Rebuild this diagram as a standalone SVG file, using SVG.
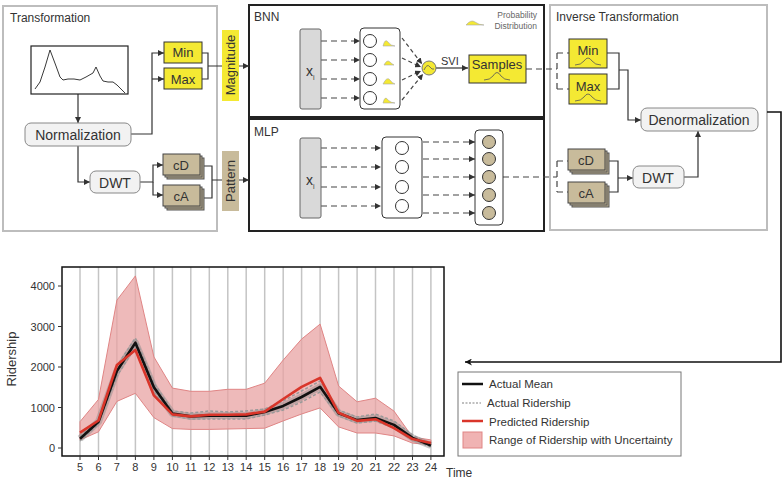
<svg xmlns="http://www.w3.org/2000/svg" width="782" height="481" viewBox="0 0 782 481">
<style>
text{font-family:"Liberation Sans",Arial,sans-serif;fill:#333}
.panel{fill:#fff;stroke:#bdbdbd;stroke-width:2}
.nnpanel{fill:#fff;stroke:#222;stroke-width:2}
.yel{fill:#f4e933;stroke:#333;stroke-width:1}
.tan{fill:#c8bb9b;stroke:#444;stroke-width:1}
.tanb{fill:#b8ab8c;stroke:#555;stroke-width:1}
.rbox{fill:#f2f2f2;stroke:#888;stroke-width:1}
.xbox{fill:#d9d9d9;stroke:#666;stroke-width:1}
.layer{fill:#fff;stroke:#333;stroke-width:1}
.neuron{fill:#fff;stroke:#333;stroke-width:1}
.tneuron{fill:#c8bb9b;stroke:#333;stroke-width:1}
.c{fill:none;stroke:#333;stroke-width:1.2}
.d{fill:none;stroke:#444;stroke-width:1.2;stroke-dasharray:6,4}
.hump{fill:#f4e933;stroke:#aaa;stroke-width:0.6}
.bell{fill:none;stroke:#555;stroke-width:0.8}
.grid{stroke:#c4c4c4;stroke-width:1.5}
.tk{font-size:11px}
.lg{font-size:11.5px}
</style>
<defs>
<marker id="ar" viewBox="0 0 10 10" refX="10" refY="5" markerWidth="5" markerHeight="5" orient="auto"><path d="M0,0 L10,5 L0,10 z" fill="#333"/></marker>
<marker id="big" viewBox="0 0 10 10" refX="10" refY="5" markerWidth="7" markerHeight="7" orient="auto" markerUnits="userSpaceOnUse"><path d="M0,0 L10,5 L0,10 L3,5 z" fill="#111"/></marker>
</defs>

<!-- Panels -->
<g id="transformation">
<rect class="panel" x="3" y="6" width="214" height="225"/>
<text x="10" y="22" font-size="12">Transformation</text>
</g>
<g id="inverse-transformation">
<rect class="panel" x="550" y="5" width="217" height="225"/>
<text x="556" y="21" font-size="12">Inverse Transformation</text>
</g>
<g id="bnn">
<rect class="nnpanel" x="249" y="5" width="295" height="112"/>
<text x="254" y="21" font-size="12">BNN</text>
</g>
<g id="mlp">
<rect class="nnpanel" x="249" y="119" width="295" height="112"/>
<text x="254" y="136" font-size="12">MLP</text>
</g>

<!-- Connectors -->
<g id="connectors">
<path class="c" d="M78,93 V123" marker-end="url(#ar)"/>
<path class="c" d="M131,134 H152 V53 H164" marker-end="url(#ar)"/>
<path class="c" d="M152,79 H164" marker-end="url(#ar)"/>
<path class="c" d="M202,53 H208 V79 H202 M208,66 H249" marker-end="url(#ar)"/>
<path class="c" d="M78,146 V182 H90" marker-end="url(#ar)"/>
<path class="c" d="M140,182 H153 V165 H163" marker-end="url(#ar)"/>
<path class="c" d="M153,182 V195 H163" marker-end="url(#ar)"/>
<path class="c" d="M204,166 H212 V198 H204 M212,180 H249" marker-end="url(#ar)"/>
<!-- BNN internals -->
<path class="d" d="M321,41 H360" marker-end="url(#ar)"/>
<path class="d" d="M321,60 H360" marker-end="url(#ar)"/>
<path class="d" d="M321,79 H360" marker-end="url(#ar)"/>
<path class="d" d="M321,98 H360" marker-end="url(#ar)"/>
<path class="d" style="stroke-dasharray:4,3" d="M402,38 L422,64" marker-end="url(#ar)"/>
<path class="d" style="stroke-dasharray:4,3" d="M402,58 L421,67" marker-end="url(#ar)"/>
<path class="d" style="stroke-dasharray:4,3" d="M402,80 L421,71" marker-end="url(#ar)"/>
<path class="d" style="stroke-dasharray:4,3" d="M402,100 L423,74" marker-end="url(#ar)"/>
<path class="c" d="M436,68 H468" marker-end="url(#ar)"/>
<!-- MLP internals -->
<path class="d" d="M321,148 H381" marker-end="url(#ar)"/>
<path class="d" d="M321,167 H381" marker-end="url(#ar)"/>
<path class="d" d="M321,187 H381" marker-end="url(#ar)"/>
<path class="d" d="M321,206 H381" marker-end="url(#ar)"/>
<path class="d" d="M423,142 H475" marker-end="url(#ar)"/>
<path class="d" d="M423,159 H475" marker-end="url(#ar)"/>
<path class="d" d="M423,177 H475" marker-end="url(#ar)"/>
<path class="d" d="M423,195 H475" marker-end="url(#ar)"/>
<path class="d" d="M423,213 H475" marker-end="url(#ar)"/>
<!-- to inverse -->
<path class="d" d="M526,69 H557 M557,53 V89 M557,53 H569 M557,89 H569"/>
<path class="d" d="M503,177 H557 M557,161 V192 M557,161 H568 M557,192 H568"/>
<path class="c" d="M607,53 H619 V89 H607 M619,70 H628 V120 H641" marker-end="url(#ar)"/>
<path class="c" d="M609,161 H618 V192 H609 M618,178 H633" marker-end="url(#ar)"/>
<path class="c" d="M684,177 H698 V131" marker-end="url(#ar)"/>
<path fill="none" stroke="#111" stroke-width="1.6" d="M767,112 H781 V362 H465" marker-end="url(#big)"/>
</g>

<!-- Transformation nodes -->
<g id="mini-chart">
<rect x="31" y="46" width="97" height="48" fill="#fff" stroke="#222" stroke-width="1.2"/>
<path fill="none" stroke="#222" stroke-width="0.9" d="M35,89 L40,82 L45,67 L50,50 L56,66 L60,77 L63,80 L68,79 L74,79 L80,80 L86,77 L93,73 L96,67 L100,76 L103,81 L108,82 L113,82 L117,85 L121,89 L125,93"/>
</g>
<g id="normalization">
<rect class="rbox" x="25" y="123" width="106" height="23" rx="6"/>
<text x="78" y="140" font-size="14" text-anchor="middle">Normalization</text>
</g>
<g id="min-t">
<rect class="yel" x="164" y="42" width="38" height="21"/>
<text x="183" y="57" font-size="13" text-anchor="middle">Min</text>
</g>
<g id="max-t">
<rect class="yel" x="164" y="68" width="38" height="21"/>
<text x="183" y="84" font-size="13" text-anchor="middle">Max</text>
</g>
<g id="dwt-t">
<rect class="rbox" x="90" y="171" width="50" height="22" rx="6"/>
<text x="115" y="188" font-size="14" text-anchor="middle">DWT</text>
</g>
<g id="cd-t">
<rect class="tanb" x="167" y="158" width="37" height="21"/>
<rect class="tanb" x="165" y="156" width="37" height="21"/>
<rect class="tan" x="163" y="154" width="37" height="21"/>
<text x="181" y="170" font-size="13" text-anchor="middle">cD</text>
</g>
<g id="ca-t">
<rect class="tanb" x="167" y="189" width="37" height="21"/>
<rect class="tanb" x="165" y="187" width="37" height="21"/>
<rect class="tan" x="163" y="185" width="37" height="21"/>
<text x="181" y="201" font-size="13" text-anchor="middle">cA</text>
</g>
<g id="magnitude">
<rect x="222" y="30" width="17" height="71" fill="#f4e933"/>
<text transform="translate(235,65) rotate(-90)" font-size="13" text-anchor="middle">Magnitude</text>
</g>
<g id="pattern">
<rect x="222" y="151" width="17" height="60" fill="#c8bb9b"/>
<text transform="translate(235,181) rotate(-90)" font-size="13" text-anchor="middle">Pattern</text>
</g>

<!-- BNN nodes -->
<g id="bnn-input">
<rect class="xbox" x="300" y="29" width="21" height="80" rx="2"/>
<text x="306" y="76" font-size="14">x<tspan font-size="7" dy="4">i</tspan></text>
</g>
<g id="bnn-hidden">
<rect class="layer" x="360" y="28" width="40" height="81" rx="4"/>
<circle class="neuron" cx="370" cy="41" r="6.5"/>
<circle class="neuron" cx="370" cy="60" r="6.5"/>
<circle class="neuron" cx="370" cy="79" r="6.5"/>
<circle class="neuron" cx="370" cy="98" r="6.5"/>
<path class="hump" d="M383,46 Q385,38 388,42 Q391,46 395,46 Z"/>
<path class="hump" d="M384,65 Q387,59 390,62 Q392,64 394,65 Z"/>
<path class="hump" d="M383,84 Q387,76 390,80 Q392,83 395,84 Z"/>
<path class="hump" d="M383,103 Q385,95 388,100 Q391,103 395,103 Z"/>
</g>
<g id="svi-node">
<circle cx="429" cy="68" r="7" fill="#f4e933" stroke="#777" stroke-width="1"/>
<path fill="none" stroke="#555" stroke-width="0.8" d="M424,70 Q427,63 430,67 Q432,70 434,69"/>
<text x="441" y="65" font-size="11">SVI</text>
</g>
<g id="samples">
<rect class="yel" x="469" y="55" width="57" height="28"/>
<text x="497" y="69" font-size="13" text-anchor="middle">Samples</text>
<path class="bell" d="M484,80 Q490,80 493,76 Q497,69 501,76 Q504,80 510,80"/>
</g>
<g id="prob-legend">
<path class="hump" d="M466,25 Q471,19 475,22 Q479,25 484,25 Z"/>
<text x="537" y="18" font-size="8.5" text-anchor="end" style="fill:#666">Probability</text>
<text x="537" y="29" font-size="8.5" text-anchor="end" style="fill:#666">Distribution</text>
</g>

<!-- MLP nodes -->
<g id="mlp-input">
<rect class="xbox" x="300" y="138" width="21" height="80" rx="2"/>
<text x="306" y="185" font-size="14">x<tspan font-size="7" dy="4">i</tspan></text>
</g>
<g id="mlp-hidden">
<rect class="layer" x="382" y="137" width="40" height="81" rx="4"/>
<circle class="neuron" cx="402" cy="148" r="6.5"/>
<circle class="neuron" cx="402" cy="167" r="6.5"/>
<circle class="neuron" cx="402" cy="187" r="6.5"/>
<circle class="neuron" cx="402" cy="206" r="6.5"/>
</g>
<g id="mlp-output">
<rect class="layer" x="475" y="130" width="28" height="95" rx="4"/>
<circle class="tneuron" cx="489" cy="142" r="6.5"/>
<circle class="tneuron" cx="489" cy="159" r="6.5"/>
<circle class="tneuron" cx="489" cy="177" r="6.5"/>
<circle class="tneuron" cx="489" cy="195" r="6.5"/>
<circle class="tneuron" cx="489" cy="213" r="6.5"/>
</g>

<!-- Inverse nodes -->
<g id="min-i">
<rect class="yel" x="569" y="39" width="38" height="29"/>
<text x="588" y="55" font-size="13" text-anchor="middle">Min</text>
<path class="bell" d="M575,65 Q581,65 584,61 Q588,55 592,61 Q595,65 601,65"/>
</g>
<g id="max-i">
<rect class="yel" x="569" y="74" width="38" height="30"/>
<text x="588" y="91" font-size="13" text-anchor="middle">Max</text>
<path class="bell" d="M575,101 Q581,101 584,97 Q588,91 592,97 Q595,101 601,101"/>
</g>
<g id="denormalization">
<rect class="rbox" x="641" y="108" width="117" height="23" rx="6"/>
<text x="699" y="125" font-size="14" text-anchor="middle">Denormalization</text>
</g>
<g id="cd-i">
<rect class="tanb" x="572" y="153" width="37" height="21"/>
<rect class="tanb" x="570" y="151" width="37" height="21"/>
<rect class="tan" x="568" y="149" width="37" height="21"/>
<text x="586" y="165" font-size="13" text-anchor="middle">cD</text>
</g>
<g id="ca-i">
<rect class="tanb" x="572" y="186" width="37" height="21"/>
<rect class="tanb" x="570" y="184" width="37" height="21"/>
<rect class="tan" x="568" y="182" width="37" height="21"/>
<text x="586" y="198" font-size="13" text-anchor="middle">cA</text>
</g>
<g id="dwt-i">
<rect class="rbox" x="633" y="166" width="51" height="22" rx="6"/>
<text x="658" y="183" font-size="14" text-anchor="middle">DWT</text>
</g>

<!-- Chart -->
<g id="chart">
<g id="gridlines">
<line class="grid" x1="80" y1="267" x2="80" y2="456"/>
<line class="grid" x1="98.5" y1="267" x2="98.5" y2="456"/>
<line class="grid" x1="116.9" y1="267" x2="116.9" y2="456"/>
<line class="grid" x1="135.4" y1="267" x2="135.4" y2="456"/>
<line class="grid" x1="153.9" y1="267" x2="153.9" y2="456"/>
<line class="grid" x1="172.4" y1="267" x2="172.4" y2="456"/>
<line class="grid" x1="190.8" y1="267" x2="190.8" y2="456"/>
<line class="grid" x1="209.3" y1="267" x2="209.3" y2="456"/>
<line class="grid" x1="227.8" y1="267" x2="227.8" y2="456"/>
<line class="grid" x1="246.2" y1="267" x2="246.2" y2="456"/>
<line class="grid" x1="264.7" y1="267" x2="264.7" y2="456"/>
<line class="grid" x1="283.2" y1="267" x2="283.2" y2="456"/>
<line class="grid" x1="301.6" y1="267" x2="301.6" y2="456"/>
<line class="grid" x1="320.1" y1="267" x2="320.1" y2="456"/>
<line class="grid" x1="338.6" y1="267" x2="338.6" y2="456"/>
<line class="grid" x1="357.1" y1="267" x2="357.1" y2="456"/>
<line class="grid" x1="375.5" y1="267" x2="375.5" y2="456"/>
<line class="grid" x1="394" y1="267" x2="394" y2="456"/>
<line class="grid" x1="412.5" y1="267" x2="412.5" y2="456"/>
<line class="grid" x1="430.9" y1="267" x2="430.9" y2="456"/>
</g>
<polygon fill="#e8a3a3" fill-opacity="0.75" stroke="#e08585" stroke-width="1" points="80,421.7 98.5,399.4 116.9,300.2 135.4,275.9 153.9,356.9 172.4,388.1 190.8,391.3 209.3,391.3 227.8,389.3 246.2,389.3 264.7,383.2 283.2,360.1 301.6,339.1 320.1,324.1 338.6,386 357.1,401.8 375.5,398.2 394,411.1 412.5,437.1 430.9,439.9 430.9,444.8 412.5,443.1 394,435.9 375.5,433 357.1,433 338.6,426.9 320.1,407.9 301.6,414 283.2,420.9 264.7,428.2 246.2,428.6 227.8,429 209.3,429.4 190.8,429.4 172.4,428.6 153.9,417.6 135.4,393.3 116.9,401.4 98.5,431.8 80,439.9"/>
<g id="actual-ridership" fill="none" stroke="#8a8a8a">
<polyline stroke-width="7" stroke-opacity="0.45" stroke-linejoin="round" points="80,438.7 98.5,421.7 116.9,371 135.4,342.7 153.9,387.3 172.4,413.6 190.8,416.4 209.3,415.6 227.8,415.6 246.2,415.6 264.7,412 283.2,405.9 301.6,397 320.1,386.8 338.6,413.2 357.1,420.1 375.5,418 394,424.9 412.5,437.9 430.9,445.6"/>
<polyline stroke-width="1.5" stroke-dasharray="3,2" stroke="#999" points="80,436 98.5,419 116.9,366 135.4,338 153.9,383 172.4,411 190.8,413 209.3,411 227.8,412 246.2,411 264.7,409 283.2,401 301.6,391 320.1,381 338.6,410 357.1,417 375.5,414 394,421 412.5,435 430.9,444"/>
<polyline stroke-width="1.5" stroke-dasharray="3,2" stroke="#999" points="80,441 98.5,424 116.9,376 135.4,347 153.9,391 172.4,416 190.8,419 209.3,419 227.8,419 246.2,419 264.7,415 283.2,410 301.6,402 320.1,392 338.6,416 357.1,423 375.5,421 394,428 412.5,440 430.9,447"/>
</g>
<polyline fill="none" stroke="#111" stroke-width="2.6" stroke-linejoin="round" points="80,438.7 98.5,421.7 116.9,371 135.4,342.7 153.9,387.3 172.4,413.6 190.8,416.4 209.3,415.6 227.8,415.6 246.2,415.6 264.7,412 283.2,405.9 301.6,397 320.1,386.8 338.6,413.2 357.1,420.1 375.5,418 394,424.9 412.5,437.9 430.9,445.6"/>
<polyline fill="none" stroke="#d9352a" stroke-width="2.6" stroke-linejoin="round" points="80,432.6 98.5,420.5 116.9,365 135.4,350 153.9,395.4 172.4,414.4 190.8,416.4 209.3,414.8 227.8,414.8 246.2,414.4 264.7,411.6 283.2,399 301.6,386.8 320.1,377.9 338.6,412.8 357.1,420.9 375.5,419.2 394,428.2 412.5,439.1 430.9,443.1"/>
<rect x="62" y="267" width="382" height="189" fill="none" stroke="#111" stroke-width="1.5"/>
<g stroke="#333" stroke-width="1">
<line x1="58" y1="448" x2="62" y2="448"/>
<line x1="58" y1="407.5" x2="62" y2="407.5"/>
<line x1="58" y1="367" x2="62" y2="367"/>
<line x1="58" y1="326.5" x2="62" y2="326.5"/>
<line x1="58" y1="286" x2="62" y2="286"/>
<path d="M80,456v4M98.5,456v4M116.9,456v4M135.4,456v4M153.9,456v4M172.4,456v4M190.8,456v4M209.3,456v4M227.8,456v4M246.2,456v4M264.7,456v4M283.2,456v4M301.6,456v4M320.1,456v4M338.6,456v4M357.1,456v4M375.5,456v4M394,456v4M412.5,456v4M430.9,456v4"/>
</g>
<g class="tk" text-anchor="end">
<text x="55" y="452">0</text>
<text x="55" y="411.5">1000</text>
<text x="55" y="371">2000</text>
<text x="55" y="330.5">3000</text>
<text x="55" y="290">4000</text>
</g>
<g class="tk" text-anchor="middle">
<text x="80" y="471">5</text>
<text x="98.5" y="471">6</text>
<text x="116.9" y="471">7</text>
<text x="135.4" y="471">8</text>
<text x="153.9" y="471">9</text>
<text x="172.4" y="471">10</text>
<text x="190.8" y="471">11</text>
<text x="209.3" y="471">12</text>
<text x="227.8" y="471">13</text>
<text x="246.2" y="471">14</text>
<text x="264.7" y="471">15</text>
<text x="283.2" y="471">16</text>
<text x="301.6" y="471">17</text>
<text x="320.1" y="471">18</text>
<text x="338.6" y="471">19</text>
<text x="357.1" y="471">20</text>
<text x="375.5" y="471">21</text>
<text x="394" y="471">22</text>
<text x="412.5" y="471">23</text>
<text x="430.9" y="471">24</text>
</g>
<text transform="translate(16,359) rotate(-90)" font-size="13" text-anchor="middle">Ridership</text>
<text x="446" y="477" font-size="12">Time</text>
</g>

<g id="legend">
<rect x="458" y="372" width="223" height="84" fill="#fff" stroke="#777" stroke-width="1"/>
<line x1="462" y1="384" x2="483" y2="384" stroke="#111" stroke-width="2.5"/>
<line x1="462" y1="403" x2="481" y2="403" stroke="#aaa" stroke-width="1.5" stroke-dasharray="2,1.5"/>
<line x1="462" y1="421" x2="483" y2="421" stroke="#d9352a" stroke-width="2.5"/>
<rect x="463" y="432" width="19" height="16" fill="#f0b3b3" stroke="#e08585" stroke-width="1"/>
<text class="lg" x="489" y="388">Actual Mean</text>
<text class="lg" x="487" y="407">Actual Ridership</text>
<text class="lg" x="489" y="426">Predicted Ridership</text>
<text class="lg" x="489" y="444">Range of Ridership with Uncertainty</text>
</g>
</svg>
